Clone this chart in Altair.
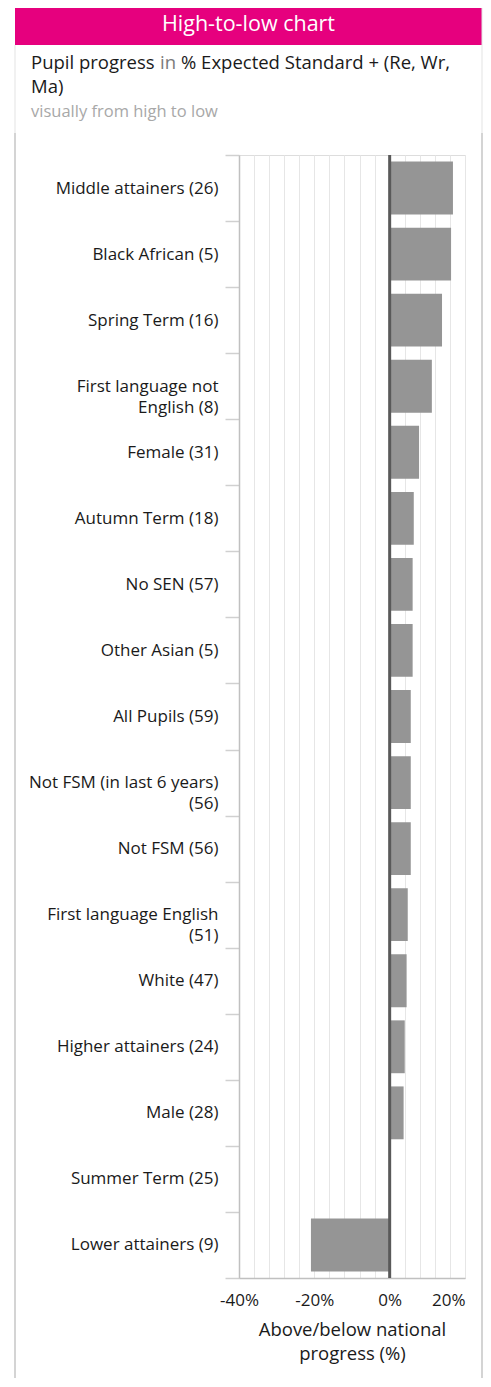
import altair as alt
import pandas as pd

# ---- data ----
categories = [
    "Middle attainers (26)",
    "Black African (5)",
    "Spring Term (16)",
    "First language not\nEnglish (8)",
    "Female (31)",
    "Autumn Term (18)",
    "No SEN (57)",
    "Other Asian (5)",
    "All Pupils (59)",
    "Not FSM (in last 6 years)\n(56)",
    "Not FSM (56)",
    "First language English\n(51)",
    "White (47)",
    "Higher attainers (24)",
    "Male (28)",
    "Summer Term (25)",
    "Lower attainers (9)",
]
values = [16.8, 16.3, 13.9, 11.2, 7.8, 6.4, 6.1, 6.1, 5.6, 5.6, 5.6, 4.8, 4.5, 4.0, 3.7, 0.0, -20.9]
x_ticks = list(range(-40, 21, 4))

FONT = "Open Sans"
TEXT = "#1a1a1a"
df = pd.DataFrame({"group": categories, "value": values})
dummy = pd.DataFrame({"d": [0]})

W, H = 226, 1123

x_scale = alt.Scale(domain=[-40, 20], nice=False, zero=False)

bars = alt.Chart(df).mark_bar(color="#959595", height={"band": 0.8}).encode(
    x=alt.X(
        "value:Q",
        scale=x_scale,
        axis=alt.Axis(
            values=x_ticks,
            tickCount=len(x_ticks),
            labelExpr="datum.value % 20 == 0 ? datum.value + '%' : ''",
            labelAlign={"condition": {"test": "datum.value > 10", "value": "right"}, "value": "center"},
            labelOverlap=False,
            labelFlush=False,
            grid=True,
            gridColor="#e6e6e6",
            gridWidth=1,
            ticks=False,
            domainColor="#c0c0c0",
            domainWidth=1.5,
            labelFontSize=17,
            labelColor=TEXT,
            labelPadding=14,
            title=["Above/below national", "progress (%)"],
            titleFontSize=18.5,
            titleFontWeight="normal",
            titleColor=TEXT,
            titleLineHeight=24,
            titlePadding=12,
        ),
    ),
    x2=alt.datum(0),
    y=alt.Y(
        "group:N",
        sort=None,
        scale=alt.Scale(paddingInner=0, paddingOuter=0),
        axis=alt.Axis(
            title=None,
            labelExpr="split(datum.label, '\\n')",
            labelFontSize=17,
            labelColor=TEXT,
            labelLineHeight=21,
            labelLimit=300,
            labelPadding=7,
            tickSize=14,
            tickBand="extent",
            tickColor="#d0d0d0",
            tickWidth=1.5,
            domainColor="#c0c0c0",
            domainWidth=1.5,
            grid=False,
        ),
    ),
)

zero = alt.Chart(dummy).mark_rule(color="#595959", strokeWidth=3).encode(
    x=alt.datum(0, scale=x_scale)
)

# ---- card decoration ----
header = alt.Chart(dummy).mark_rect(color="#E6007E").encode(
    x=alt.value(-224), x2=alt.value(243), y=alt.value(-150), y2=alt.value(-110)
)
header_text = alt.Chart(dummy).mark_text(
    color="white", fontSize=21.5, font=FONT, align="center", baseline="middle"
).encode(x=alt.value(9.5), y=alt.value(-130), text=alt.value("High-to-low chart"))

left_top = alt.Chart(dummy).mark_rule(color="#e3e3e3", strokeWidth=1).encode(
    x=alt.value(-224), y=alt.value(-110), y2=alt.value(-22)
)
left_border = alt.Chart(dummy).mark_rule(color="#d4d4d4", strokeWidth=2).encode(
    x=alt.value(-224), y=alt.value(-22), y2=alt.value(1240)
)
right_top = alt.Chart(dummy).mark_rule(color="#e3e3e3", strokeWidth=1).encode(
    x=alt.value(243), y=alt.value(-150), y2=alt.value(-22)
)
right_border = alt.Chart(dummy).mark_rule(color="#d4d4d4", strokeWidth=2).encode(
    x=alt.value(243), y=alt.value(-22), y2=alt.value(1240)
)

def txt(s, x, y, color=TEXT, size=18.5):
    return alt.Chart(dummy).mark_text(
        color=color, fontSize=size, font=FONT, align="left", baseline="alphabetic"
    ).encode(x=alt.value(x), y=alt.value(y), text=alt.value(s))

t1 = txt("Pupil progress", -208, -86)
t2 = txt("in", -79, -86, color="#7a7a7a")
t3 = txt("% Expected Standard + (Re, Wr,", -58, -86)
t4 = txt("Ma)", -208, -62)
t5 = txt("visually from high to low", -208, -38, color="#a8a8a8", size=16.5)

chart = alt.layer(
    header, header_text, left_top, left_border, right_top, right_border,
    t1, t2, t3, t4, t5, bars, zero
).properties(
    width=W,
    height=H,
    autosize=alt.AutoSizeParams(type="none"),
    padding={"left": 231, "top": 147, "right": 18, "bottom": 100},
).configure_view(stroke=None).configure(font=FONT)

chart.save("out.html", embed_options={"renderer": "svg", "actions": False})
